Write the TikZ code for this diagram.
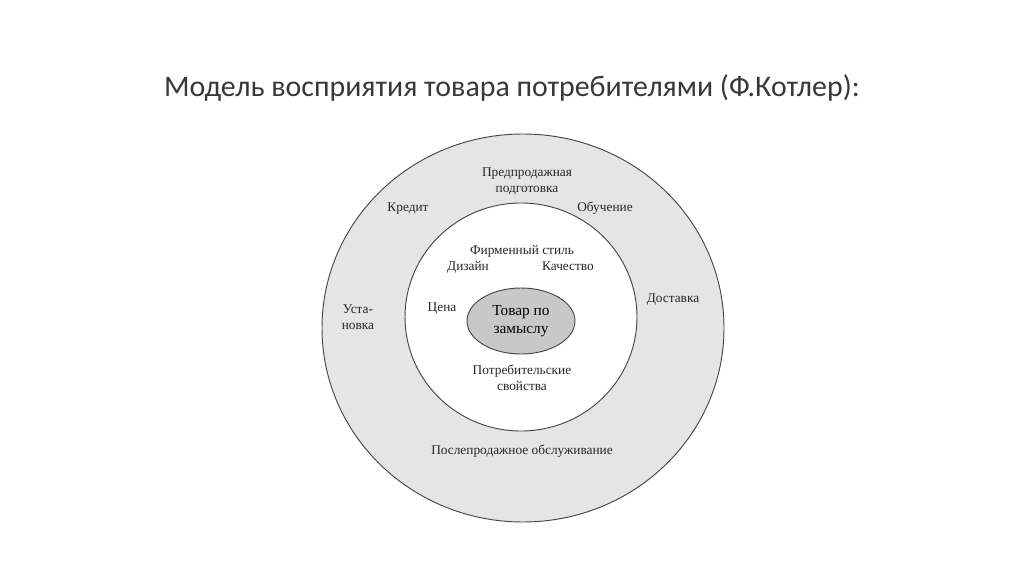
\documentclass[tikz,border=0pt]{standalone}
\usepackage{fontspec}
\setmainfont{Liberation Serif}
\newfontfamily\titlefont{Carlito}
\usetikzlibrary{positioning,shapes.geometric}

\definecolor{ringgray}{RGB}{229,229,229}
\definecolor{coregray}{RGB}{200,200,200}
\definecolor{edgegray}{RGB}{70,70,70}

\begin{document}
\begin{tikzpicture}[x=0.75pt,y=-0.75pt,
    ring/.style={ellipse,draw=edgegray,line width=0.7pt,inner sep=0pt},
    lbl/.style={font=\fontsize{10}{12}\selectfont,align=center,inner sep=0pt,
                text height=1.6ex,text depth=0.3ex,text=black!85}]

    \useasboundingbox (0,0) rectangle (1024,574);

    \node[font=\titlefont\fontsize{22.4}{26}\selectfont,text=black!78] (title) at (512,88)
        {Модель восприятия товара потребителями (Ф.Котлер):};

    % three rings, outer to inner
    \node[ring,fill=ringgray,minimum width=301.5pt,minimum height=291pt] (outer) at (523,328) {};
    \node[ring,fill=white,minimum width=174pt,minimum height=171pt] (inner) at (521,317) {};
    \node[ring,fill=coregray,minimum width=81pt,minimum height=49.5pt,
          font=\fontsize{11.5}{13.5}\selectfont,align=center] (core) at (521,321) {Товар по\\замыслу};

    % outer ring
    \node[lbl] (presale) at (527,189) {Предпродажная\\подготовка};
    \node[lbl] (credit) at (408,208) {Кредит};
    \node[lbl] (training) at (605,208) {Обучение};
    \node[lbl] (install) at (358,326) {Уста-\\новка};
    \node[lbl] (delivery) at (673,299) {Доставка};
    \node[lbl] (service) at (522,451) {Послепродажное обслуживание};

    % inner ring
    \node[lbl] (brand) at (522,251) {Фирменный стиль};
    \node[lbl] (design) at (468,267) {Дизайн};
    \node[lbl] (quality) at (568,267) {Качество};
    \node[lbl] (price) at (442,308) {Цена};
    \node[lbl] (props) at (522,387) {Потребительские\\свойства};

\end{tikzpicture}
\end{document}
